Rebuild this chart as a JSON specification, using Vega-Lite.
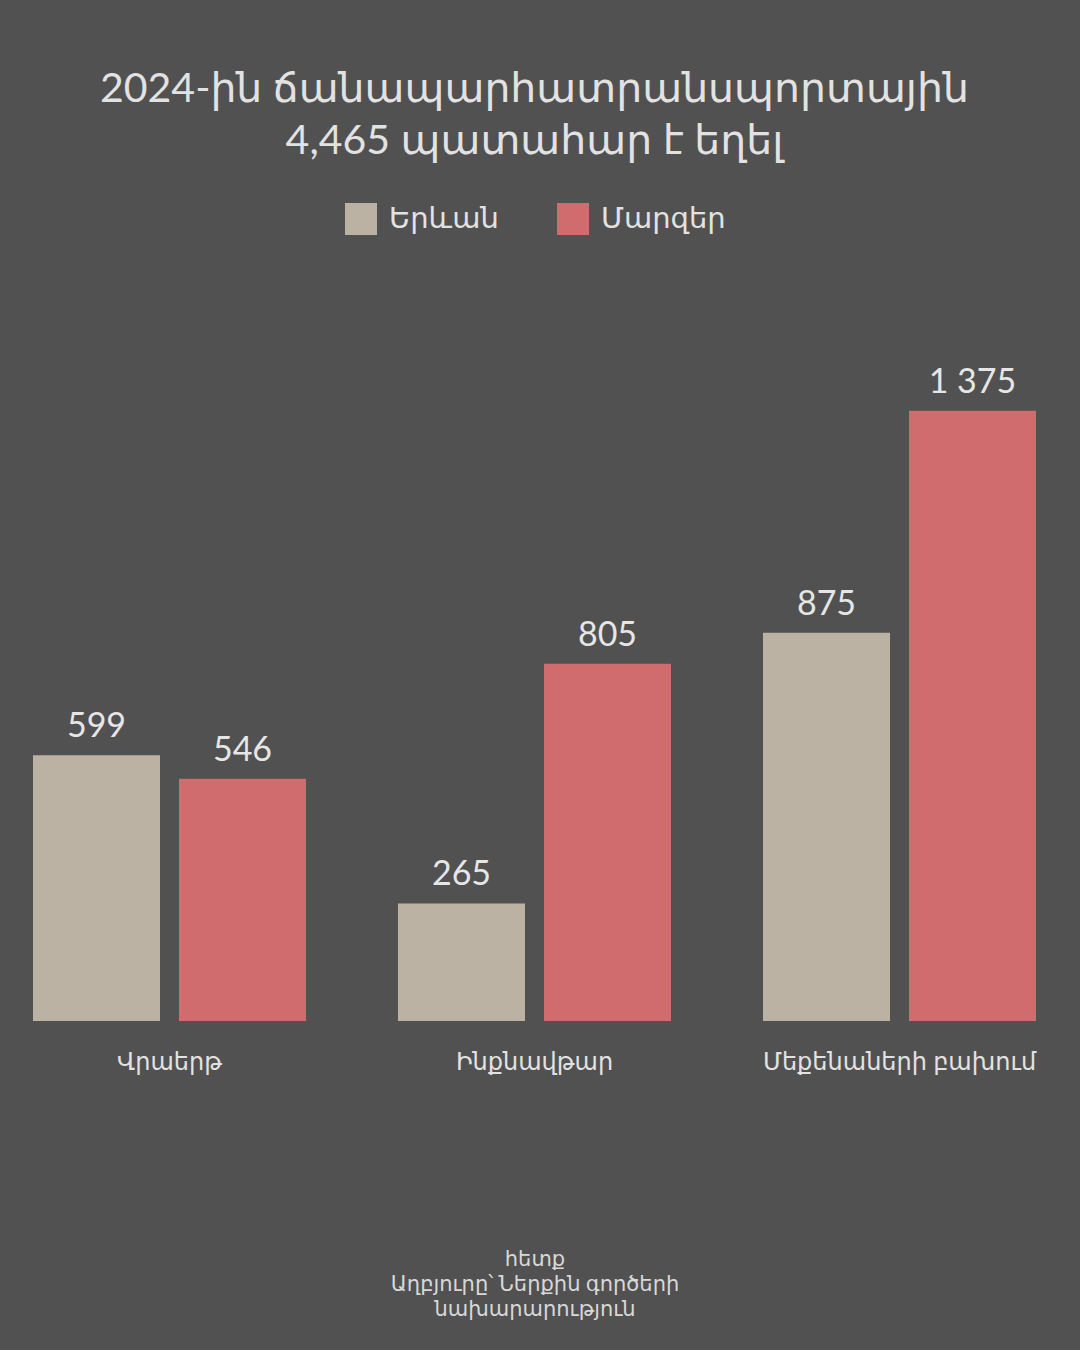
{
  "$schema": "https://vega.github.io/schema/vega-lite/v6.json",
  "width": 1069,
  "height": 710,
  "autosize": {"type": "none"},
  "padding": {"left": 0, "top": 311, "right": 11, "bottom": 329},
  "background": "#515151",
  "title": {
    "text": ["2024-ին ճանապարհատրանսպորտային", "4,465 պատահար է եղել"],
    "anchor": "middle",
    "frame": "group",
    "fontSize": 41,
    "fontWeight": "normal",
    "font": "Lato, DejaVu Sans",
    "color": "#e2e2e2",
    "lineHeight": 52,
    "offset": 40
  },
  "data": {
    "values": [
      {"type": "Վրաերթ", "region": "Երևան", "count": 599},
      {"type": "Վրաերթ", "region": "Մարզեր", "count": 546},
      {"type": "Ինքնավթար", "region": "Երևան", "count": 265},
      {"type": "Ինքնավթար", "region": "Մարզեր", "count": 805},
      {"type": "Մեքենաների բախում", "region": "Երևան", "count": 875},
      {"type": "Մեքենաների բախում", "region": "Մարզեր", "count": 1375}
    ]
  },
  "encoding": {
    "x": {
      "field": "type",
      "type": "nominal",
      "sort": ["Վրաերթ", "Ինքնավթար", "Մեքենաների բախում"],
      "scale": {"paddingInner": 0.252, "paddingOuter": 0.0904},
      "axis": {
        "labelAngle": 0,
        "labelFontSize": 24,
        "labelColor": "#e2e2e2",
        "labelFont": "Lato, DejaVu Sans",
        "labelPadding": 29,
        "labelLimit": 0,
        "domain": false,
        "ticks": false,
        "title": ["հետք", "Աղբյուրը՝ Ներքին գործերի", "նախարարություն"],
        "titleFontSize": 21,
        "titleFontWeight": "normal",
        "titleFont": "Lato, DejaVu Sans",
        "titleColor": "#d8d8d8",
        "titleLineHeight": 25,
        "titlePadding": 174
      }
    },
    "xOffset": {
      "field": "region",
      "type": "nominal",
      "sort": ["Երևան", "Մարզեր"],
      "scale": {"paddingInner": 0.13, "paddingOuter": 0}
    },
    "y": {
      "field": "count",
      "type": "quantitative",
      "scale": {"domain": [0, 1600]},
      "axis": null
    }
  },
  "layer": [
    {
      "mark": {"type": "bar"},
      "encoding": {
        "color": {
          "field": "region",
          "type": "nominal",
          "scale": {"domain": ["Երևան", "Մարզեր"], "range": ["#bcb2a4", "#d06b6e"]},
          "legend": {
            "title": null,
            "orient": "none",
            "direction": "horizontal",
            "legendX": 345,
            "legendY": -108,
            "symbolType": "square",
            "symbolSize": 1024,
            "symbolStrokeWidth": 0,
            "labelFontSize": 29,
            "labelFont": "Lato, DejaVu Sans",
            "labelColor": "#e2e2e2",
            "labelOffset": 12,
            "columnPadding": 58
          }
        }
      }
    },
    {
      "mark": {
        "type": "text",
        "baseline": "bottom",
        "dy": -11,
        "fontSize": 34,
        "font": "Lato, DejaVu Sans",
        "color": "#e6e6e6"
      },
      "encoding": {
        "text": {"field": "count", "type": "quantitative", "format": ",d"}
      }
    }
  ],
  "config": {
    "view": {"stroke": null},
    "locale": {"number": {"decimal": ".", "thousands": " ", "grouping": [3], "currency": ["", ""]}}
  }
}
